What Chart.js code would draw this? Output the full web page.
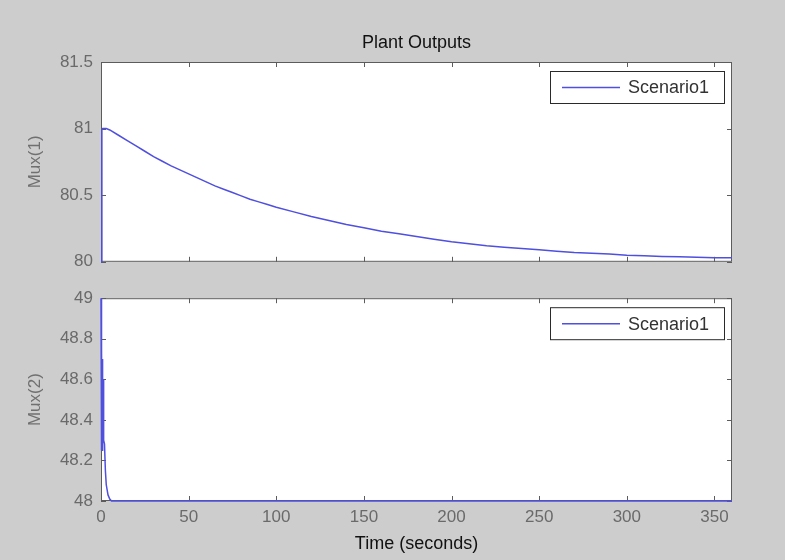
<!DOCTYPE html>
<html>
<head>
<meta charset="utf-8">
<title>Plant Outputs</title>
<script src="https://cdn.jsdelivr.net/npm/chart.js@4.4.1/dist/chart.umd.min.js"></script>
<style>
  html, body { margin: 0; padding: 0; }
  body { width: 785px; height: 560px; background: #cdcdcd; position: relative; overflow: hidden; }
  .pane { position: absolute; left: 0; width: 785px; height: 280px; }
  #pane-top { top: 0; }
  #pane-bottom { top: 280px; }
  canvas { display: block; }
</style>
</head>
<body>
<div class="pane" id="pane-top"><canvas id="chart-top" width="785" height="280"></canvas></div>
<div class="pane" id="pane-bottom"><canvas id="chart-bottom" width="785" height="280"></canvas></div>
<script>
// data
const timeTop = [0, 0.5, 1, 3, 5, 10, 15, 20, 25, 30, 35, 40, 45, 50, 55, 60, 65, 70, 75, 80, 85, 90, 95, 100,
    110, 120, 130, 140, 150, 160, 170, 180, 190, 200, 210, 220, 230, 240, 250, 260, 270, 280, 290, 300,
    310, 320, 330, 340, 350, 360];
const mux1 = [80.0, 80.99, 81.0, 81.0, 80.99, 80.95, 80.91, 80.87, 80.83, 80.79, 80.755, 80.72, 80.69, 80.66,
    80.63, 80.60, 80.57, 80.545, 80.52, 80.495, 80.47, 80.45, 80.43, 80.41,
    80.375, 80.34, 80.31, 80.28, 80.255, 80.23, 80.21, 80.19, 80.17, 80.15, 80.135, 80.12, 80.11, 80.10,
    80.09, 80.08, 80.07, 80.065, 80.058, 80.05, 80.045, 80.04, 80.037, 80.034, 80.031, 80.03];

const timeBottom = [0, 0.2, 0.4, 0.6, 0.8, 1.0, 1.2, 1.5, 2, 2.5, 3, 4, 5, 6, 10, 100, 200, 300, 360];
const mux2 = [49.0, 48.25, 48.75, 48.25, 48.7, 48.3, 48.6, 48.3, 48.28, 48.15, 48.08, 48.03, 48.01, 48.0, 48.0,
    48.0, 48.0, 48.0, 48.0];

const seriesName = 'Scenario1';
const lineColor = '#4f4fe0';
const fontFamily = '"Liberation Sans", Arial, sans-serif';
const tickColor = '#6a6a6a';

function toPoints(xs, ys) {
    return xs.map((x, i) => ({ x: x, y: ys[i] }));
}

function fmt(v) {
    return String(Number(v.toFixed(2)));
}

// matlab style box: frame, inward ticks on all sides, legend box top-right
const matlabAxes = {
    id: 'matlabAxes',
    beforeDatasetsDraw(chart) {
        const { ctx, chartArea: a, scales } = chart;
        ctx.save();
        ctx.fillStyle = '#ffffff';
        ctx.fillRect(a.left, a.top, a.width, a.height);
        ctx.strokeStyle = '#5c5c5c';
        ctx.lineWidth = 1;
        ctx.strokeRect(a.left + 0.5, a.top + 0.5, a.width - 1, a.height - 1);
        const len = 5;
        ctx.beginPath();
        scales.x.ticks.forEach(t => {
            const px = Math.round(scales.x.getPixelForValue(t.value)) + 0.5;
            ctx.moveTo(px, a.bottom); ctx.lineTo(px, a.bottom - len);
            ctx.moveTo(px, a.top); ctx.lineTo(px, a.top + len);
        });
        scales.y.ticks.forEach(t => {
            const py = Math.round(scales.y.getPixelForValue(t.value)) + 0.5;
            ctx.moveTo(a.left, py); ctx.lineTo(a.left + len, py);
            ctx.moveTo(a.right, py); ctx.lineTo(a.right - len, py);
        });
        ctx.stroke();
        ctx.restore();
    },
    afterDatasetsDraw(chart) {
        const { ctx, chartArea: a } = chart;
        const ds = chart.data.datasets[0];
        const w = 175, h = 33;
        const left = a.right - 7 - w;
        const top = a.top + 9;
        ctx.save();
        ctx.fillStyle = '#ffffff';
        ctx.fillRect(left, top, w, h);
        ctx.strokeStyle = '#2a2a2a';
        ctx.lineWidth = 1;
        ctx.strokeRect(left + 0.5, top + 0.5, w - 1, h - 1);
        const cy = top + h / 2;
        ctx.strokeStyle = ds.borderColor;
        ctx.lineWidth = 1.5;
        ctx.beginPath();
        ctx.moveTo(left + 12, cy);
        ctx.lineTo(left + 70, cy);
        ctx.stroke();
        ctx.fillStyle = '#333333';
        ctx.font = '18px ' + fontFamily;
        ctx.textBaseline = 'middle';
        ctx.textAlign = 'left';
        ctx.fillText(ds.label, left + 78, cy + 1);
        ctx.restore();
    }
};

function lineDataset(xs, ys) {
    return {
        label: seriesName,
        data: toPoints(xs, ys),
        borderColor: lineColor,
        borderWidth: 1.5,
        pointRadius: 0,
        tension: 0,
        clip: 3
    };
}

function yAxis(min, max, step, title) {
    return {
        type: 'linear',
        min: min,
        max: max,
        ticks: {
            stepSize: step,
            padding: 8,
            color: tickColor,
            font: { family: fontFamily, size: 17 },
            callback: v => fmt(v)
        },
        grid: { display: false, drawTicks: false },
        border: { display: false },
        title: {
            display: true,
            text: title,
            color: '#707070',
            font: { family: fontFamily, size: 17 },
            padding: { top: 25, bottom: 0 }
        },
        afterFit(scale) { scale.width = 101; }
    };
}

new Chart(document.getElementById('chart-top'), {
    type: 'line',
    data: { datasets: [lineDataset(timeTop, mux1)] },
    options: {
        responsive: false,
        animation: false,
        layout: { padding: { left: 0, right: 53, top: 0, bottom: 10 } },
        plugins: {
            legend: { display: false },
            tooltip: { enabled: false },
            title: {
                display: true,
                text: 'Plant Outputs',
                fullSize: false,
                color: '#111111',
                font: { family: fontFamily, size: 18, weight: 'normal' },
                padding: { top: 32, bottom: 8.4 }
            }
        },
        scales: {
            x: {
                type: 'linear',
                min: 0,
                max: 360,
                ticks: { display: false, stepSize: 50, includeBounds: false },
                grid: { display: false, drawTicks: false },
                border: { display: false },
                afterFit(scale) { scale.height = 0; }
            },
            y: yAxis(80, 81.5, 0.5, 'Mux(1)')
        }
    },
    plugins: [matlabAxes]
});

new Chart(document.getElementById('chart-bottom'), {
    type: 'line',
    data: { datasets: [lineDataset(timeBottom, mux2)] },
    options: {
        responsive: false,
        animation: false,
        layout: { padding: { left: 0, right: 53, top: 13, bottom: 0 } },
        plugins: {
            legend: { display: false },
            tooltip: { enabled: false }
        },
        scales: {
            x: {
                type: 'linear',
                min: 0,
                max: 360,
                ticks: {
                    stepSize: 50,
                    includeBounds: false,
                    padding: 6,
                    maxRotation: 0,
                    color: tickColor,
                    font: { family: fontFamily, size: 17 }
                },
                grid: { display: false, drawTicks: false },
                border: { display: false },
                title: {
                    display: true,
                    text: 'Time (seconds)',
                    color: '#111111',
                    font: { family: fontFamily, size: 18 },
                    padding: { top: 0, bottom: 5 }
                },
                afterFit(scale) { scale.height = 59; }
            },
            y: yAxis(48, 49, 0.2, 'Mux(2)')
        }
    },
    plugins: [matlabAxes]
});
</script>
</body>
</html>
